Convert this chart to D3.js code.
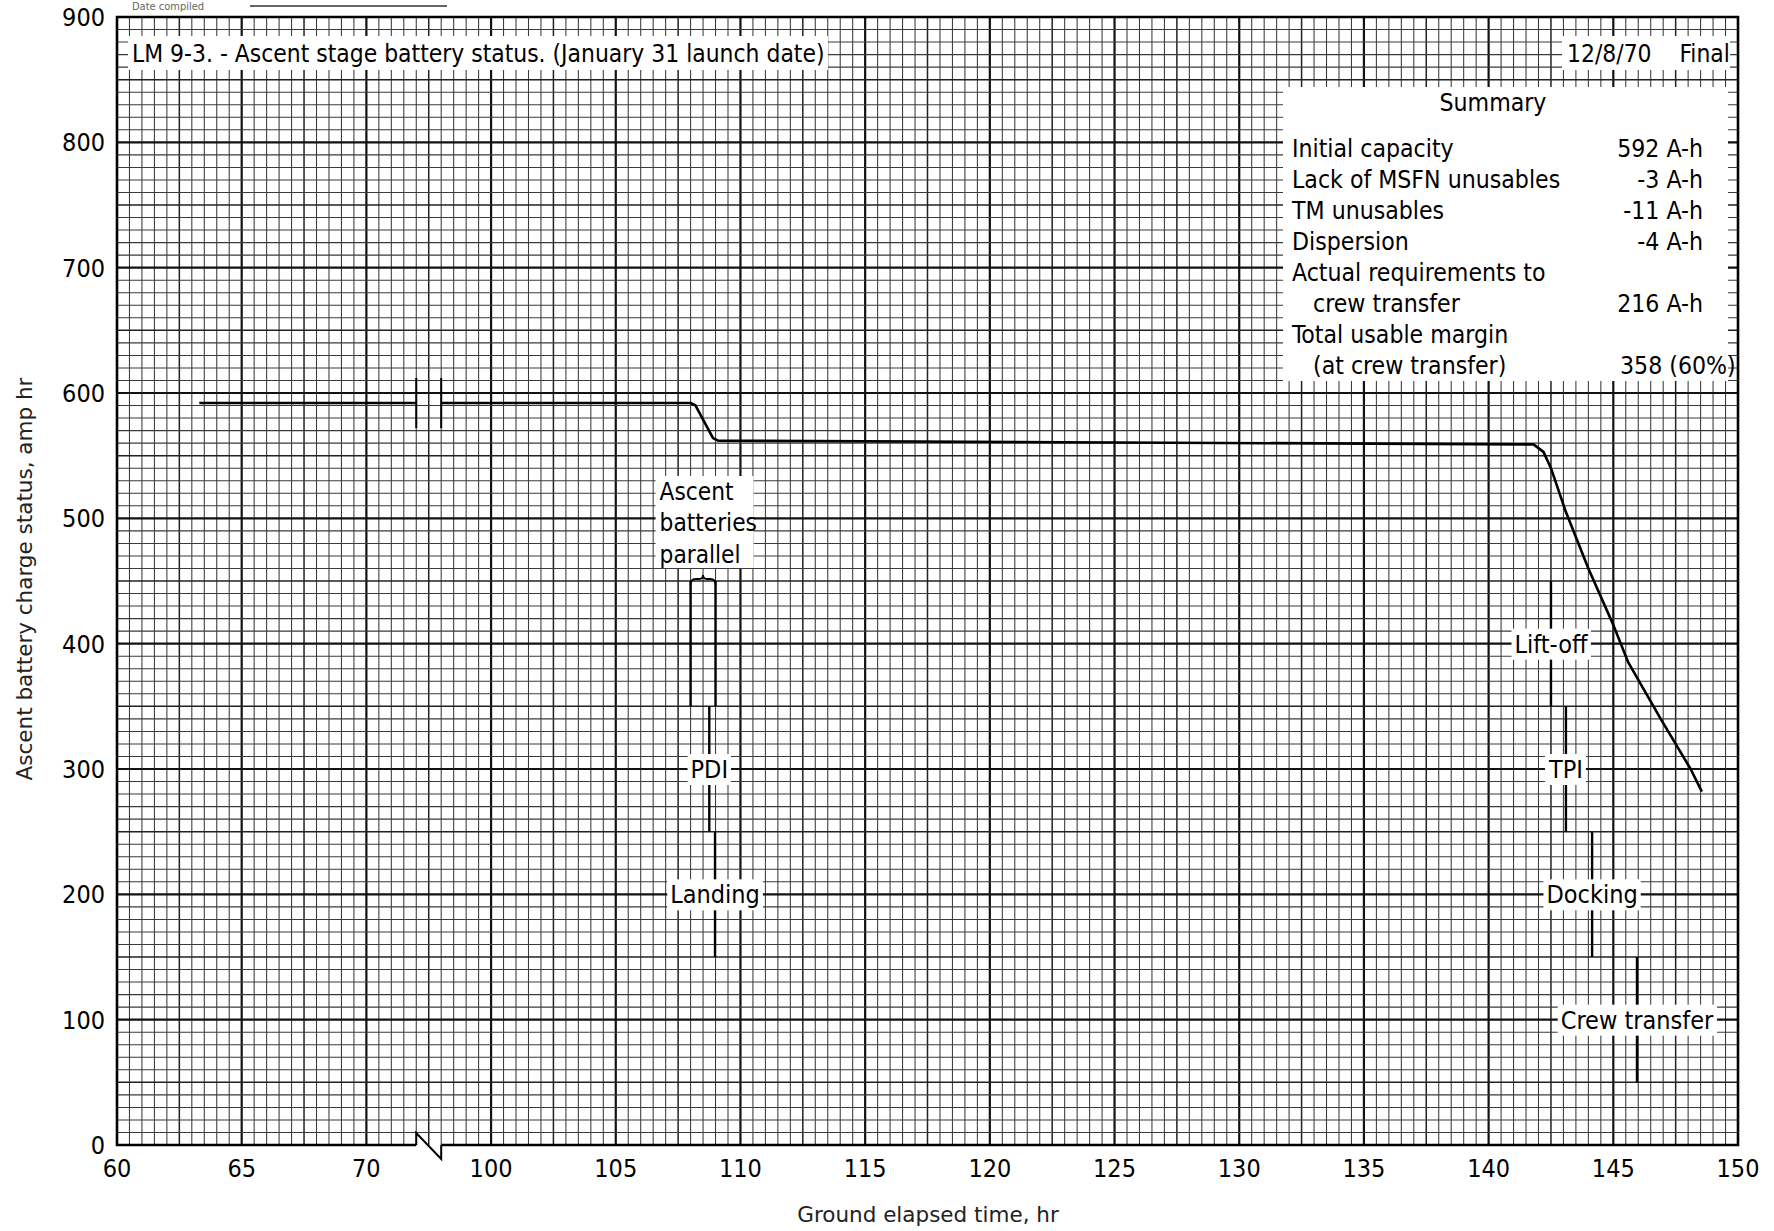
<!DOCTYPE html>
<html>
<head>
<meta charset="utf-8">
<script src="https://cdn.jsdelivr.net/npm/d3@7"></script>
<style>
  html, body { margin: 0; padding: 0; background: #fff; }
  svg { display: block; }
  .cond { font-family: "Liberation Sans Narrow", "DejaVu Sans Condensed", "Roboto", sans-serif; }
  .plain { font-family: "DejaVu Sans", sans-serif; }
</style>
</head>
<body>
<script>
const WIDTH = 1774;
const HEIGHT = 1231;

// axis ticks (x axis is broken between 70 and 100 hr)
const xTicks = [60, 65, 70, 100, 105, 110, 115, 120, 125, 130, 135, 140, 145, 150];
const yTicks = [0, 100, 200, 300, 400, 500, 600, 700, 800, 900];

// battery status curve, before and after the axis break
const hoursBefore = [63.3, 72];
const ampHrBefore = [592, 592];
const hoursAfter = [98, 108, 108.2, 108.9, 109.1, 141.8, 142.2, 142.5, 143.1, 144.0, 145.0, 145.6, 146.9, 148.1, 148.55];
const ampHrAfter = [592, 592, 590, 564, 562, 559, 553, 540, 505, 460, 415, 385, 340, 300, 282];

// mission events
const eventNames = ["PDI", "Landing", "Lift-off", "TPI", "Docking", "Crew transfer"];
const eventHours = [108.75, 108.98, 142.5, 143.1, 144.15, 145.95];
const eventTop = [350, 250, 450, 350, 250, 150];
const eventBottom = [250, 150, 350, 250, 150, 50];
const eventLabelAt = [300, 200, 400, 300, 200, 100];

const parallelHours = [108, 109];
const parallelTop = 450;
const parallelBottom = 350;
const parallelLines = ["Ascent", "batteries", "parallel"];

const summaryLabels = ["Initial capacity", "Lack of MSFN unusables", "TM unusables", "Dispersion",
  "Actual requirements to", "crew transfer", "Total usable margin", "(at crew transfer)"];
const summaryValues = ["592 A-h", "-3 A-h", "-11 A-h", "-4 A-h", "", "216 A-h", "", "358 (60%)"];
const summaryIndent = [0, 0, 0, 0, 0, 1, 0, 1];

const TITLE = "LM 9-3. - Ascent stage battery status. (January 31 launch date)";
const DATE_NOTE = "12/8/70    Final";

const LEFT = 117;
const RIGHT = 1738;
const TOP = 17;
const BOTTOM = 1145;
const UNIT = (RIGHT - LEFT) / 13;

const svg = d3.select("body").append("svg")
  .attr("width", WIDTH)
  .attr("height", HEIGHT);

const x = d3.scaleLinear()
  .domain([60, 72, 98, 150])
  .range([LEFT, LEFT + 2.4 * UNIT, LEFT + 2.6 * UNIT, RIGHT]);

const y = d3.scaleLinear().domain([0, 900]).range([BOTTOM, TOP]);

// graph paper: 130 columns, 90 rows
const paperX = d3.scaleLinear().domain([0, 130]).range([LEFT, RIGHT]);

const grid = svg.append("g").attr("class", "grid");
const weight = (i) => (i % 10 === 0 ? 2.2 : i % 5 === 0 ? 1.5 : 1.05);
const shade = (i) => (i % 10 === 0 ? "#111" : i % 5 === 0 ? "#222" : "#3a3a3a");

grid.selectAll(".v")
  .data(d3.range(1, 130))
  .join("line")
  .attr("x1", (d) => paperX(d))
  .attr("x2", (d) => paperX(d))
  .attr("y1", TOP)
  .attr("y2", BOTTOM)
  .attr("stroke", shade)
  .attr("stroke-width", weight);

grid.selectAll(".h")
  .data(d3.range(1, 90))
  .join("line")
  .attr("x1", LEFT)
  .attr("x2", RIGHT)
  .attr("y1", (d) => y(d * 10))
  .attr("y2", (d) => y(d * 10))
  .attr("stroke", shade)
  .attr("stroke-width", weight);

// frame, with the broken bottom axis
const frame = svg.append("g")
  .attr("fill", "none")
  .attr("stroke", "#000")
  .attr("stroke-width", 2.6);
frame.append("path")
  .attr("d", `M${x(72)},${BOTTOM} L${LEFT},${BOTTOM} L${LEFT},${TOP} L${RIGHT},${TOP} L${RIGHT},${BOTTOM} L${x(98)},${BOTTOM}`);
frame.append("path")
  .attr("stroke-width", 2)
  .attr("d", `M${x(72)},${BOTTOM} L${x(72)},${BOTTOM - 12} L${x(98)},${BOTTOM + 14} L${x(98)},${BOTTOM}`);

// tick labels
svg.append("g")
  .attr("class", "cond")
  .attr("font-size", 25)
  .selectAll("text")
  .data(yTicks)
  .join("text")
  .attr("x", LEFT - 12)
  .attr("y", (d) => y(d))
  .attr("dy", "0.36em")
  .attr("text-anchor", "end")
  .text((d) => d);

svg.append("g")
  .attr("class", "cond")
  .attr("font-size", 25)
  .selectAll("text")
  .data(xTicks)
  .join("text")
  .attr("x", (d) => x(d))
  .attr("y", BOTTOM + 23)
  .attr("dy", "0.36em")
  .attr("text-anchor", "middle")
  .text((d) => d);

svg.append("text")
  .attr("class", "plain")
  .attr("font-size", 21.5)
  .attr("fill", "#222")
  .attr("text-anchor", "middle")
  .attr("transform", `translate(32,579) rotate(-90)`)
  .text("Ascent battery charge status, amp hr");

svg.append("text")
  .attr("class", "plain")
  .attr("font-size", 21.5)
  .attr("fill", "#222")
  .attr("text-anchor", "middle")
  .attr("x", 928)
  .attr("y", 1222)
  .text("Ground elapsed time, hr");

// header above the plot (cut off in the original scan)
svg.append("text")
  .attr("class", "cond")
  .attr("font-size", 11)
  .attr("fill", "#666")
  .attr("x", 132)
  .attr("y", 10)
  .text("Date compiled");
svg.append("line")
  .attr("x1", 250).attr("x2", 447)
  .attr("y1", 6).attr("y2", 6)
  .attr("stroke", "#333").attr("stroke-width", 1.5);

// white-backed label helper
const boxedText = (g, tx, ty, str, size, anchor, pad) => {
  const t = g.append("text")
    .attr("class", "cond")
    .attr("font-size", size)
    .attr("x", tx)
    .attr("y", ty)
    .attr("dy", "0.36em")
    .attr("text-anchor", anchor)
    .text(str);
  const b = t.node().getBBox();
  g.insert("rect", () => t.node())
    .attr("x", b.x - pad)
    .attr("y", b.y - 1)
    .attr("width", b.width + 2 * pad)
    .attr("height", b.height + 2)
    .attr("fill", "#fff");
  return t;
};

// title and date
const head = svg.append("g");
head.append("rect")
  .attr("x", 128).attr("y", 36)
  .attr("width", 700).attr("height", 34)
  .attr("fill", "#fff");
head.append("text")
  .attr("class", "cond")
  .attr("font-size", 24.4)
  .attr("x", 132)
  .attr("y", 53)
  .attr("dy", "0.36em")
  .text(TITLE);
head.append("rect")
  .attr("x", 1562).attr("y", 36)
  .attr("width", 168).attr("height", 34)
  .attr("fill", "#fff");
head.append("text")
  .attr("class", "cond")
  .attr("font-size", 24.4)
  .attr("x", 1567)
  .attr("y", 53)
  .attr("dy", "0.36em")
  .style("white-space", "pre")
  .text(DATE_NOTE);

// summary box
const sum = svg.append("g").attr("class", "cond");
sum.append("rect")
  .attr("x", 1283).attr("y", 87)
  .attr("width", 445).attr("height", 294)
  .attr("fill", "#fff");
sum.append("text")
  .attr("font-size", 24.6)
  .attr("x", 1493)
  .attr("y", 102)
  .attr("dy", "0.36em")
  .attr("text-anchor", "middle")
  .text("Summary");
const rowY = d3.scaleLinear().domain([0, 7]).range([148, 365]);
sum.selectAll(".lab")
  .data(summaryLabels)
  .join("text")
  .attr("font-size", 24.6)
  .attr("x", (d, i) => 1292 + summaryIndent[i] * 21)
  .attr("y", (d, i) => rowY(i))
  .attr("dy", "0.36em")
  .text((d) => d);
sum.selectAll(".val")
  .data(summaryValues)
  .join("text")
  .attr("font-size", 24.6)
  .attr("x", (d, i) => (i === 7 ? 1620 : 1703))
  .attr("y", (d, i) => rowY(i))
  .attr("dy", "0.36em")
  .attr("text-anchor", (d, i) => (i === 7 ? "start" : "end"))
  .text((d) => d);

// event markers
const ev = svg.append("g");
ev.selectAll("line")
  .data(eventNames)
  .join("line")
  .attr("x1", (d, i) => x(eventHours[i]))
  .attr("x2", (d, i) => x(eventHours[i]))
  .attr("y1", (d, i) => y(eventTop[i]))
  .attr("y2", (d, i) => y(eventBottom[i]))
  .attr("stroke", "#000")
  .attr("stroke-width", 2.4);
eventNames.forEach((name, i) => {
  boxedText(ev, x(eventHours[i]), y(eventLabelAt[i]), name, 25, "middle", 3);
});

// ascent batteries parallel
const par = svg.append("g");
par.selectAll("line")
  .data(parallelHours)
  .join("line")
  .attr("x1", (d) => x(d))
  .attr("x2", (d) => x(d))
  .attr("y1", y(parallelTop))
  .attr("y2", y(parallelBottom))
  .attr("stroke", "#000")
  .attr("stroke-width", 2.4);
const bx0 = x(parallelHours[0]);
const bx1 = x(parallelHours[1]);
const bm = (bx0 + bx1) / 2;
const by = y(parallelTop) - 2;
par.append("path")
  .attr("fill", "none")
  .attr("stroke", "#000")
  .attr("stroke-width", 1.8)
  .attr("d", `M${bx0},${by + 6} Q${bx0},${by} ${bx0 + 5},${by} L${bm - 4},${by} Q${bm},${by} ${bm},${by - 4} Q${bm},${by} ${bm + 4},${by} L${bx1 - 5},${by} Q${bx1},${by} ${bx1},${by + 6}`);
par.append("rect")
  .attr("x", bx0 - 35).attr("y", 476)
  .attr("width", 98).attr("height", 92)
  .attr("fill", "#fff");
par.selectAll("text")
  .data(parallelLines)
  .join("text")
  .attr("class", "cond")
  .attr("font-size", 24.2)
  .attr("x", bx0 - 31)
  .attr("y", (d, i) => 491 + i * 31.5)
  .attr("dy", "0.36em")
  .text((d) => d);

// the curve
const line = d3.line().x((d) => x(d[0])).y((d) => y(d[1]));
const curve = svg.append("g")
  .attr("fill", "none")
  .attr("stroke", "#000")
  .attr("stroke-width", 2.6)
  .attr("stroke-linejoin", "round");
curve.append("path").attr("d", line(d3.zip(hoursBefore, ampHrBefore)));
curve.append("path").attr("d", line(d3.zip(hoursAfter, ampHrAfter)));

// break marks on the curve
curve.selectAll("line")
  .data([hoursBefore[hoursBefore.length - 1], hoursAfter[0]])
  .join("line")
  .attr("x1", (d) => x(d))
  .attr("x2", (d) => x(d))
  .attr("y1", y(ampHrBefore[0] + 20))
  .attr("y2", y(ampHrBefore[0] - 20))
  .attr("stroke-width", 2);
</script>
</body>
</html>
